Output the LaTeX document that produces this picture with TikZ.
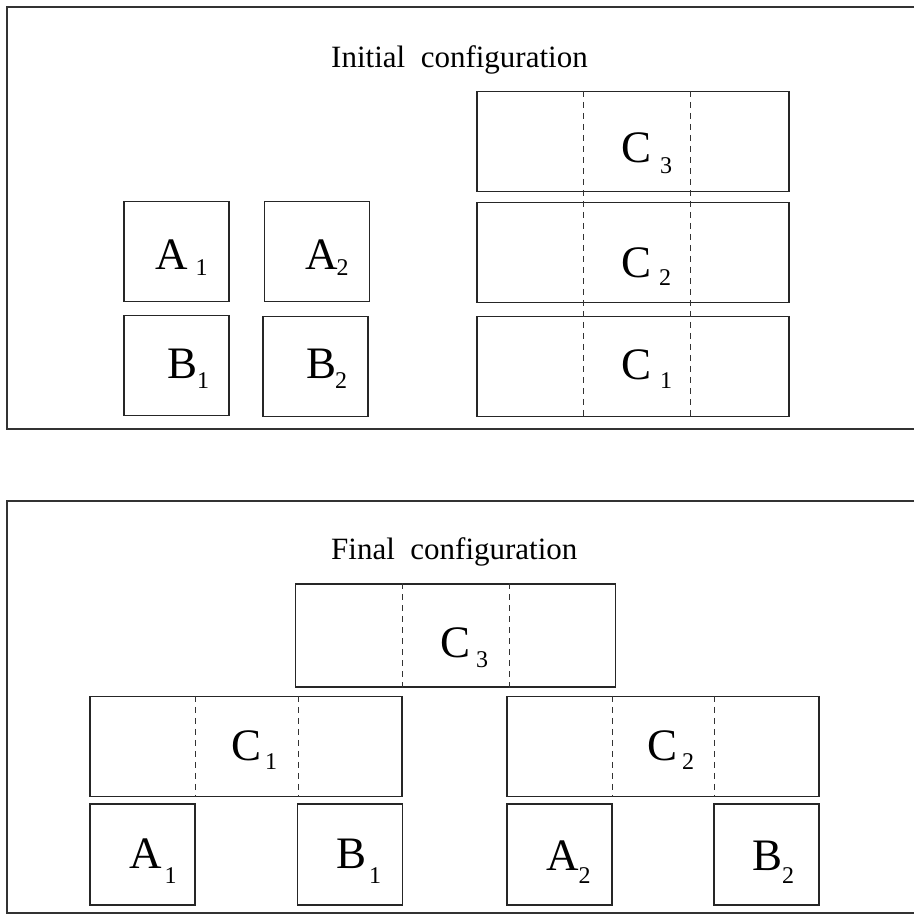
\documentclass[tikz,border=0pt]{standalone}
\usepackage{fontspec}
\setmainfont{Liberation Serif}
\usetikzlibrary{calc}

% block letter with a lowered index: letter, index, gap (pt), drop (pt)
\newcommand{\blklabel}[4]{#1\hspace{#3pt}\raisebox{-#4pt}{\fontsize{24}{24}\selectfont #2}}

\tikzset{
  frame/.style={draw=black!80, line width=1.6pt},
  blk/.style={draw=black!85, line width=1.2pt, inner sep=0pt},
  sblk/.style={blk, minimum width=105pt, minimum height=100pt},
  cblk/.style={blk, minimum width=312pt, minimum height=100pt},
  cut/.style={draw=black!80, line width=0.9pt, dash pattern=on 6pt off 5pt},
  lbl/.style={anchor=base west, inner sep=0pt, font=\fontsize{45}{45}\selectfont},
  ttl/.style={anchor=base west, inner sep=0pt, font=\fontsize{31}{31}\selectfont}
}

\begin{document}
\begin{tikzpicture}[x=1pt, y=-1pt]
  \useasboundingbox (0,0) rectangle (914,914);

  % initial configuration
  \draw[frame] (914,7) -- (7,7) -- (7,429) -- (914,429);
  \node[ttl] (ititle) at (331,67) {Initial~~configuration};

  \node[sblk] (iA1) at (176.5,251.5) {};
  \node[sblk] (iA2) at (317,251.5) {};
  \node[sblk] (iB1) at (176.5,365.5) {};
  \node[sblk] (iB2) at (315.5,366.5) {};
  \node[cblk] (iC3) at (633,141.5) {};
  \node[cblk] (iC2) at (633,252.5) {};
  \node[cblk] (iC1) at (633,366.5) {};
  \draw[cut] ($(iC3.north west)!.343!(iC3.north east)$) -- ($(iC1.south west)!.343!(iC1.south east)$);
  \draw[cut] ($(iC3.north west)!.683!(iC3.north east)$) -- ($(iC1.south west)!.683!(iC1.south east)$);

  \node[lbl] (iA1l) at (155,269) {\blklabel{A}{1}{8}{6}};
  \node[lbl] (iA2l) at (305,269) {\blklabel{A}{2}{-1}{6}};
  \node[lbl] (iB1l) at (167,378) {\blklabel{B}{1}{0}{10}};
  \node[lbl] (iB2l) at (306,378) {\blklabel{B}{2}{-1}{10}};
  \node[lbl] (iC3l) at (621,162) {\blklabel{C}{3}{9}{11}};
  \node[lbl] (iC2l) at (621,277) {\blklabel{C}{2}{8}{8}};
  \node[lbl] (iC1l) at (621,379) {\blklabel{C}{1}{9}{9}};

  % final configuration
  \draw[frame] (914,501) -- (7,501) -- (7,913) -- (914,913);
  \node[ttl] (ftitle) at (331,559) {Final~~configuration};

  \node[blk, minimum width=320pt, minimum height=103pt] (fC3) at (455.5,635.5) {};
  \node[cblk] (fC1) at (246,746.5) {};
  \node[cblk] (fC2) at (663,746.5) {};
  \node[sblk, minimum height=101pt] (fA1) at (142.5,854.5) {};
  \node[sblk, minimum height=101pt] (fB1) at (350,854.5) {};
  \node[sblk, minimum height=101pt] (fA2) at (559.5,854.5) {};
  \node[sblk, minimum height=101pt] (fB2) at (766.5,854.5) {};
  \foreach \c/\p/\q in {fC3/.334/.669, fC1/.337/.667, fC2/.337/.663} {
    \draw[cut] ($(\c.north west)!\p!(\c.north east)$) -- ($(\c.south west)!\p!(\c.south east)$);
    \draw[cut] ($(\c.north west)!\q!(\c.north east)$) -- ($(\c.south west)!\q!(\c.south east)$);
  }

  \node[lbl] (fC3l) at (440,657) {\blklabel{C}{3}{6}{10}};
  \node[lbl] (fC1l) at (231,760) {\blklabel{C}{1}{4}{9}};
  \node[lbl] (fC2l) at (647,760) {\blklabel{C}{2}{5}{9}};
  \node[lbl] (fA1l) at (129,868) {\blklabel{A}{1}{3}{15}};
  \node[lbl] (fB1l) at (336,868) {\blklabel{B}{1}{3}{15}};
  \node[lbl] (fA2l) at (546,870) {\blklabel{A}{2}{0}{13}};
  \node[lbl] (fB2l) at (752,870) {\blklabel{B}{2}{0}{13}};
\end{tikzpicture}
\end{document}
